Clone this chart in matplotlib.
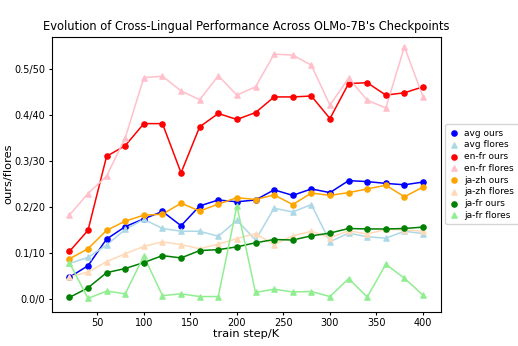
import matplotlib
matplotlib.use('Agg')
import matplotlib.pyplot as plt

steps = [20, 40, 60, 80, 100, 120, 140, 160, 180, 200,
         220, 240, 260, 280, 300, 320, 340, 360, 380, 400]

avg_ours = [0.048, 0.073, 0.131, 0.158, 0.175, 0.191, 0.160, 0.203, 0.216, 0.212,
            0.216, 0.238, 0.226, 0.240, 0.232, 0.258, 0.256, 0.252, 0.249, 0.255]
avg_flores = [0.078, 0.091, 0.118, 0.152, 0.174, 0.154, 0.148, 0.148, 0.137, 0.172,
              0.129, 0.198, 0.190, 0.206, 0.125, 0.144, 0.136, 0.133, 0.148, 0.143]
enfr_ours = [0.104, 0.150, 0.311, 0.334, 0.382, 0.382, 0.275, 0.375, 0.404, 0.391,
             0.406, 0.440, 0.440, 0.442, 0.393, 0.469, 0.471, 0.444, 0.449, 0.462]
enfr_flores = [0.183, 0.230, 0.268, 0.351, 0.482, 0.485, 0.453, 0.434, 0.486, 0.444,
               0.462, 0.533, 0.531, 0.509, 0.422, 0.481, 0.433, 0.416, 0.549, 0.440]
jazh_ours = [0.088, 0.110, 0.150, 0.170, 0.183, 0.185, 0.209, 0.192, 0.207, 0.221,
             0.217, 0.227, 0.206, 0.231, 0.226, 0.232, 0.240, 0.248, 0.223, 0.244]
jazh_flores = [0.049, 0.059, 0.082, 0.099, 0.115, 0.125, 0.119, 0.110, 0.120, 0.132,
               0.143, 0.119, 0.138, 0.148, 0.134, 0.149, 0.142, 0.152, 0.151, 0.148]
jafr_ours = [0.004, 0.025, 0.058, 0.067, 0.080, 0.095, 0.090, 0.106, 0.108, 0.114,
             0.123, 0.130, 0.129, 0.138, 0.144, 0.154, 0.153, 0.153, 0.154, 0.157]
jafr_flores = [0.080, 0.002, 0.018, 0.012, 0.094, 0.008, 0.012, 0.006, 0.006, 0.203,
               0.015, 0.022, 0.016, 0.017, 0.006, 0.045, 0.005, 0.076, 0.046, 0.009]

series = [
    ('avg ours', avg_ours, 'blue', 'o'),
    ('avg flores', avg_flores, 'lightblue', '^'),
    ('en-fr ours', enfr_ours, 'red', 'o'),
    ('en-fr flores', enfr_flores, 'pink', '^'),
    ('ja-zh ours', jazh_ours, 'orange', 'o'),
    ('ja-zh flores', jazh_flores, 'peachpuff', '^'),
    ('ja-fr ours', jafr_ours, 'green', 'o'),
    ('ja-fr flores', jafr_flores, 'lightgreen', '^'),
]

ytick_vals = [0.0, 0.1, 0.2, 0.3, 0.4, 0.5]
ytick_labels = ['0.0/0', '0.1/10', '0.2/20', '0.3/30', '0.4/40', '0.5/50']

fig = plt.figure(figsize=(5.18, 3.46), dpi=100)
ax = fig.add_axes([0.0998, 0.099, 0.751, 0.795])

for label, vals, color, marker in series:
    ax.plot(steps, vals, color=color, linewidth=1.1)
    ax.scatter(steps, vals, color=color, marker=marker, s=14, label=label, zorder=3)

ax.set_yticks(ytick_vals)
ax.set_yticklabels(ytick_labels)
ax.set_ylim(-0.027, 0.571)
ax.tick_params(labelsize=7, length=2.5, pad=2)
ax.set_xlabel('train step/K', fontsize=8.2, labelpad=1)
ax.set_ylabel('ours/flores', fontsize=8.2, labelpad=1)
ax.set_title("Evolution of Cross-Lingual Performance Across OLMo-7B's Checkpoints", fontsize=8.3, pad=5)
ax.legend(loc='center left', bbox_to_anchor=(1.0, 0.5), fontsize=6.5,
          handlelength=1, handletextpad=0.6, borderpad=0.5, labelspacing=0.3)

fig.savefig('out.png', dpi=100)
